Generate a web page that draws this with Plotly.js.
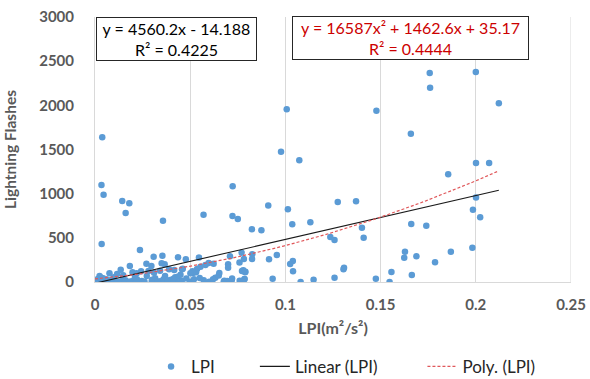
<!DOCTYPE html>
<html>
<head>
<meta charset="utf-8">
<script src="https://cdn.plot.ly/plotly-3.0.1.min.js"></script>
<style>html,body{margin:0;padding:0;background:#fff;}#chart{width:590px;height:379px;}</style>
</head>
<body>
<div id="chart"></div>
<script>
// LPI (m²/s²) values
const lpi = [
0.2000,0.1758,0.1760,0.2121,0.1007,0.1478,0.1659,0.0038,0.0977,0.1073,
0.2001,0.2070,0.1855,0.0034,0.0723,0.0045,0.2001,0.0143,0.0180,0.1275,
0.1371,0.0910,0.1013,0.1985,0.0161,0.0570,0.0722,0.0750,0.0357,0.2023,
0.1131,0.1036,0.1661,0.1740,0.1402,0.0824,0.0874,0.1411,0.1236,0.1258,
0.0035,0.1982,0.0236,0.1628,0.1869,0.0770,0.0826,0.0955,0.0354,0.0308,
0.0709,0.1688,0.0436,0.0546,0.1624,0.0477,0.0914,0.0825,0.0782,0.1039,
0.1786,0.0759,0.1025,0.0699,0.0699,0.0270,0.0350,0.0366,0.0623,0.0597,
0.0580,0.0183,0.0296,0.0554,0.1308,0.1305,0.0461,0.0536,0.0457,0.0389,
0.0135,0.0416,0.0779,0.0342,0.0281,0.0772,0.0242,0.0512,0.1040,0.0790,
0.1557,0.0788,0.0197,0.0531,0.0310,0.0653,0.0515,0.0076,0.0219,0.0501,
0.0116,0.0449,0.1664,0.0148,0.0024,0.0272,0.0368,0.0434,0.0099,0.0210,
0.0421,0.0632,0.1258,0.0043,0.0316,0.0933,0.1475,0.0786,0.0784,0.1148,
0.0394,0.0571,0.0718,0.0679,0.0760,0.0455,0.0001,0.0424,0.0694,0.0246,
0.0141,0.0018,0.0342,0.0298,0.0193,0.0097,0.0054,0.1080,0.1547,0.0454,
0.0688,0.0676,
0.0000,0.0005,0.0010,0.0015,0.0020,0.0030,0.0060,0.0080,0.0120,0.0160,
0.0180,0.0220,0.0260,0.0300,0.0330,0.0360,0.0380,0.0410,0.0480,0.0500,
0.0520,0.0550,0.0600,0.0620,0.0650,0.0720
];
// Lightning flashes
const flashes = [
2378,2366,2200,2023,1955,1940,1679,1640,1475,1377,
1347,1347,1219,1098,1083,988,957,917,891,906,
913,866,824,819,781,762,747,713,694,732,
676,653,657,638,615,597,585,502,509,475,
430,389,362,343,343,330,313,306,298,287,
291,291,279,277,275,257,257,260,260,238,
223,221,205,200,162,207,211,200,207,215,
192,181,181,173,162,144,151,147,144,144,
139,136,132,128,125,125,121,121,121,117,
113,110,110,110,105,102,102,98,98,98,
91,83,79,76,68,68,68,60,53,53,
53,49,49,42,42,37,37,34,30,26,
23,19,19,15,15,15,15,11,11,11,
11,11,8,8,8,8,8,0,0,0,
0,3,
0,5,20,35,2,50,30,20,4,20,
2,30,3,25,2,30,5,35,40,3,
30,45,4,30,75,40
];
// trendline coefficients [c0, c1, c2] as drawn in the reference
const linearCoef = [-14.2, 4960];
const polyCoef = [35.2, 1990, 17800];
const xTicks = [0, 0.05, 0.1, 0.15, 0.2, 0.25];
const xTickText = ['0', '0.05', '0.1', '0.15', '0.2', '0.25'];
const yTicks = [0, 500, 1000, 1500, 2000, 2500, 3000];
const linearLabel = ['y = 4560.2x - 14.188', 'R² = 0.4225'];
const polyLabel = ['y = 16587x² + 1462.6x + 35.17', 'R² = 0.4444'];
const seriesNames = ['LPI', 'Linear (LPI)', 'Poly. (LPI)'];

const n = Math.min(lpi.length, flashes.length);
const xs = lpi.slice(0, n), ys = flashes.slice(0, n);
const xmin = Math.min(...xs), xmax = Math.max(...xs);
const tx = []; for (let i = 0; i <= 60; i++) tx.push(xmin + (xmax - xmin) * i / 60);
const evalPoly = (c, x) => c.reduce((s, ci, i) => s + ci * Math.pow(x, i), 0);
const tyLin = tx.map(x => evalPoly(linearCoef, x));
const tyPoly = tx.map(x => evalPoly(polyCoef, x));

const font = 'Lato, "Open Sans", sans-serif';
const gray = '#595959';
const traces = [
  {x: xs, y: ys, type: 'scatter', mode: 'markers', name: seriesNames[0],
   marker: {color: '#5B9BD5', size: 6.5}, legend: 'legend', showlegend: true},
  {x: tx, y: tyLin, type: 'scatter', mode: 'lines', name: seriesNames[1],
   line: {color: '#1a1a1a', width: 1.1}, legend: 'legend2', showlegend: true},
  {x: tx, y: tyPoly, type: 'scatter', mode: 'lines', name: seriesNames[2],
   line: {color: '#E0585B', width: 1.2, dash: '3px,2px'}, legend: 'legend3', showlegend: true}
];
const legBase = {orientation: 'h', yanchor: 'middle', xanchor: 'left', y: 0.032,
  xref: 'container', yref: 'container',
  font: {family: font, size: 17, color: '#262626'}, bgcolor: 'rgba(0,0,0,0)'};
const layout = {
  width: 590, height: 379, showlegend: true,
  margin: {l: 95, r: 19, t: 17, b: 97, autoexpand: false},
  paper_bgcolor: '#fff', plot_bgcolor: '#fff',
  font: {family: font, color: gray},
  xaxis: {range: [0, 0.25], tickvals: xTicks, ticktext: xTickText,
    showgrid: true, gridcolor: '#d9d9d9', gridwidth: 1, zeroline: false,
    showline: true, linecolor: '#d9d9d9', linewidth: 1,
    ticks: '', ticklabelstandoff: 9,
    tickfont: {family: font, size: 15, color: gray, weight: 'bold'},
    title: {text: 'LPI(m²/s²)', font: {family: font, size: 16, color: gray, weight: 'bold'}, standoff: 10}},
  yaxis: {range: [0, 3000], tickvals: yTicks, showgrid: false, zeroline: false,
    showline: true, linecolor: '#d9d9d9', linewidth: 1,
    ticks: '', ticklabelstandoff: 17,
    tickfont: {family: font, size: 15, color: gray, weight: 'bold'},
    title: {text: 'Lightning Flashes', font: {family: font, size: 15.5, color: gray, weight: 'bold'}, standoff: 18}},
  legend: Object.assign({}, legBase, {x: 0.256}),
  legend2: Object.assign({}, legBase, {x: 0.432}),
  legend3: Object.assign({}, legBase, {x: 0.716}),
  shapes: [
    {type: 'line', xref: 'x', yref: 'paper', x0: xTicks[xTicks.length - 1], x1: xTicks[xTicks.length - 1],
     y0: 0, y1: 1, line: {color: '#d9d9d9', width: 1}, layer: 'below'}
  ],
  annotations: [
    {xref: 'paper', yref: 'paper', x: 0.172, y: 0.917, xanchor: 'center', yanchor: 'middle',
     text: linearLabel.join('<br>'), showarrow: false, align: 'center',
     font: {family: font, size: 16, color: '#000'}, bordercolor: '#262626', borderwidth: 1,
     borderpad: 1, bgcolor: '#fff', width: 157},
    {xref: 'paper', yref: 'paper', x: 0.662, y: 0.921, xanchor: 'center', yanchor: 'middle',
     text: polyLabel.join('<br>'), showarrow: false, align: 'center',
     font: {family: font, size: 16, color: '#CC0000'}, bordercolor: '#262626', borderwidth: 1,
     borderpad: 1, bgcolor: '#fff', width: 233}
  ]
};
Plotly.newPlot('chart', traces, layout, {staticPlot: true, displayModeBar: false});
</script>
</body>
</html>
